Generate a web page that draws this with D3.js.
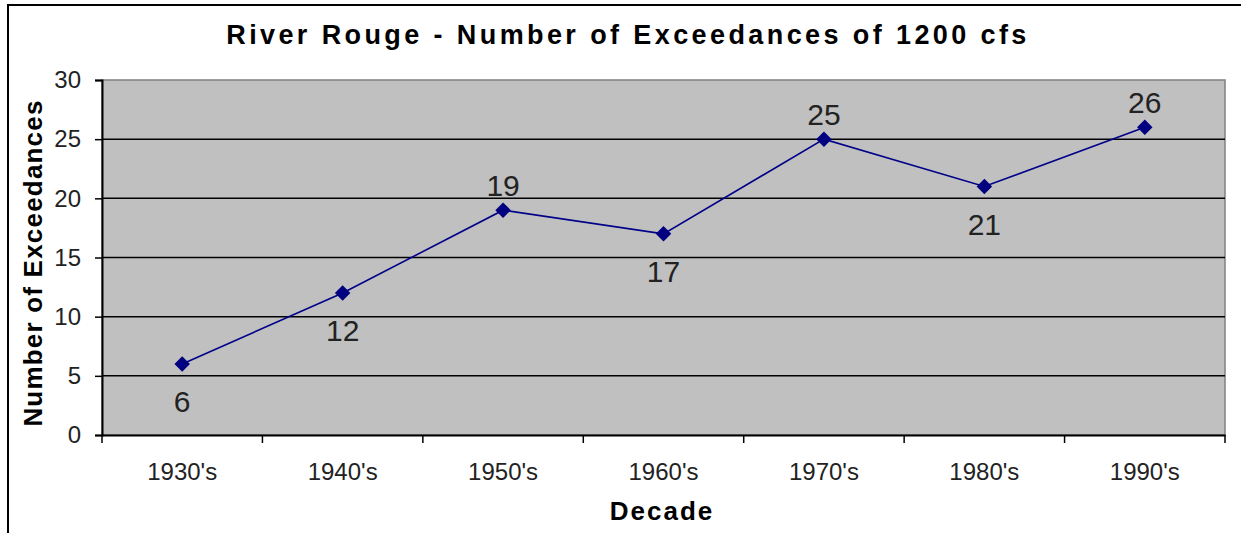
<!DOCTYPE html>
<html>
<head>
<meta charset="utf-8">
<script src="https://cdn.jsdelivr.net/npm/d3@7"></script>
<style>
  body { margin: 0; background: #fff; }
  text { font-family: Arial, "Liberation Sans", sans-serif; }
</style>
</head>
<body>
<svg id="chart" width="1241" height="533"></svg>
<script>
const decades = ["1930's", "1940's", "1950's", "1960's", "1970's", "1980's", "1990's"];
const exceedances = [6, 12, 19, 17, 25, 21, 26];
const labelAbove = [false, false, true, false, true, false, true];
const yTicks = [0, 5, 10, 15, 20, 25, 30];

const svg = d3.select("#chart");
const plotLeft = 102, plotRight = 1225, plotTop = 80, plotBottom = 435;

// outer frame, cut off at right and bottom like the source
svg.append("rect")
  .attr("x", 8).attr("y", 5)
  .attr("width", 1260).attr("height", 560)
  .attr("fill", "#fff")
  .attr("stroke", "#000")
  .attr("stroke-width", 2);

const x = d3.scaleBand().domain(decades).range([plotLeft, plotRight]);
const y = d3.scaleLinear().domain([0, 30]).range([plotBottom, plotTop]);

svg.append("rect")
  .attr("x", plotLeft).attr("y", plotTop)
  .attr("width", plotRight - plotLeft).attr("height", plotBottom - plotTop)
  .attr("fill", "#c0c0c0")
  .attr("stroke", "#808080")
  .attr("stroke-width", 1.5);

svg.append("g").selectAll("line").data(yTicks.filter(d => d > 0 && d < 30))
  .join("line")
  .attr("x1", plotLeft).attr("x2", plotRight)
  .attr("y1", d => y(d)).attr("y2", d => y(d))
  .attr("stroke", "#000")
  .attr("stroke-width", 1.5);

// y axis
const yAxis = svg.append("g")
  .attr("transform", `translate(${plotLeft},0)`)
  .call(d3.axisLeft(y).tickValues(yTicks).tickSize(7).tickPadding(14));
yAxis.select(".domain").attr("stroke", "#000").attr("stroke-width", 2);
yAxis.selectAll(".tick line").attr("stroke", "#000").attr("stroke-width", 1.5);
yAxis.selectAll(".tick text")
  .attr("font-size", 24).attr("fill", "#222")
  .attr("font-family", "Arial, 'Liberation Sans', sans-serif");

// x axis: ticks on category boundaries
const xAxis = svg.append("g")
  .attr("transform", `translate(0,${plotBottom})`)
  .call(d3.axisBottom(x).tickSize(0).tickPadding(28));
xAxis.select(".domain").attr("stroke", "#000").attr("stroke-width", 2);
xAxis.selectAll(".tick text")
  .attr("font-size", 24).attr("fill", "#222")
  .attr("font-family", "Arial, 'Liberation Sans', sans-serif");
svg.append("g").selectAll("line").data(decades.concat(["end"]))
  .join("line")
  .attr("x1", (d, i) => plotLeft + i * x.bandwidth())
  .attr("x2", (d, i) => plotLeft + i * x.bandwidth())
  .attr("y1", plotBottom).attr("y2", plotBottom + 8)
  .attr("stroke", "#000")
  .attr("stroke-width", 1.5);

const cx = d => x(d) + x.bandwidth() / 2;

// series line
svg.append("path")
  .datum(decades.map((d, i) => [cx(d), y(exceedances[i])]))
  .attr("d", d3.line())
  .attr("fill", "none")
  .attr("stroke", "#000088")
  .attr("stroke-width", 1.6);

svg.append("g").selectAll("path").data(decades)
  .join("path")
  .attr("transform", (d, i) => `translate(${cx(d)},${y(exceedances[i])}) rotate(45)`)
  .attr("d", d3.symbol(d3.symbolSquare, 120)())
  .attr("fill", "#000080");

// data labels
svg.append("g").selectAll("text").data(decades)
  .join("text")
  .attr("x", cx)
  .attr("y", (d, i) => y(exceedances[i]) + (labelAbove[i] ? -14 : 48))
  .attr("text-anchor", "middle")
  .attr("font-size", 30)
  .attr("fill", "#222")
  .text((d, i) => exceedances[i]);

// titles
svg.append("text")
  .attr("x", 628).attr("y", 44)
  .attr("text-anchor", "middle")
  .attr("font-size", 27).attr("font-weight", "bold")
  .attr("letter-spacing", 3.4)
  .text("River Rouge - Number of Exceedances of 1200 cfs");

svg.append("text")
  .attr("x", 662).attr("y", 520)
  .attr("text-anchor", "middle")
  .attr("font-size", 26).attr("font-weight", "bold")
  .attr("letter-spacing", 2)
  .text("Decade");

svg.append("text")
  .attr("transform", "translate(42,263) rotate(-90)")
  .attr("text-anchor", "middle")
  .attr("font-size", 26).attr("font-weight", "bold")
  .attr("letter-spacing", 1.2)
  .text("Number of Exceedances");
</script>
</body>
</html>
